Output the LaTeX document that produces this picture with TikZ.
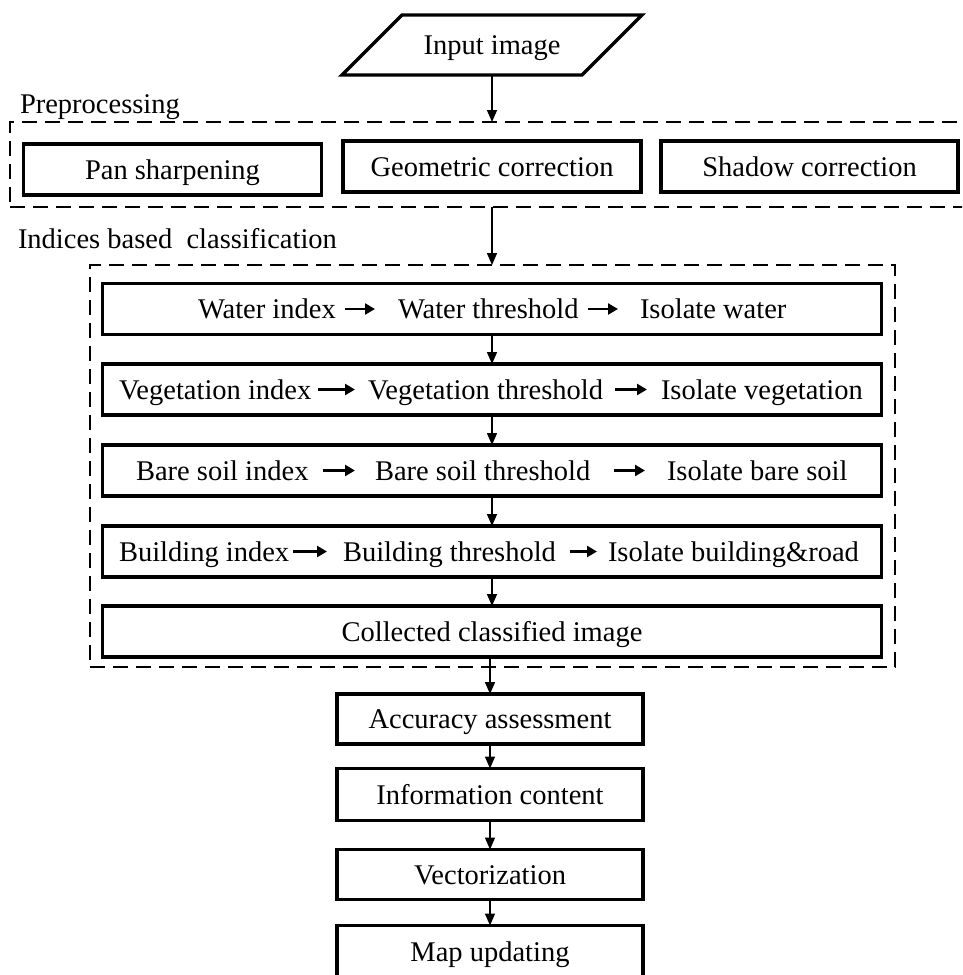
\documentclass[tikz,border=0pt]{standalone}
\usepackage{fontspec}
\setmainfont{Liberation Serif}
\usetikzlibrary{arrows.meta}
\begin{document}
\begin{tikzpicture}[x=1pt,y=-1pt,
  every node/.style={font=\fontsize{28.5}{34}\selectfont, inner sep=0pt, outer sep=0pt},
  solidbox/.style={draw, line width=3.2pt, minimum height=51pt, text height=19.5pt, text depth=0pt},
  dashbox/.style={draw, line width=2.6pt, dash pattern=on 15pt off 8pt},
  vconn/.style={line width=1.5pt, -{Triangle[length=12pt,width=10pt]}},
  hconn/.style={line width=2.4pt, -{Triangle[length=10pt,width=11pt]}},
  term/.style={anchor=west, text height=19.5pt, text depth=0pt},
]
\clip (0,0) rectangle (962,975);

% input
\node[minimum width=300pt, minimum height=60pt, text height=19.5pt, text depth=0pt] (input) at (492,45) {Input image};
\draw[line width=3.2pt, line join=miter] ([xshift=60pt]input.north west) -- (input.north east)
  -- ([xshift=-60pt]input.south east) -- (input.south west) -- cycle;

% preprocessing
\node[dashbox, minimum width=960pt, minimum height=85pt] (pre) at (490,164.5) {};
\node[anchor=base west] (prelabel) at (20,113) {Preprocessing};
\node[solidbox, minimum width=298pt] (pan) at (172.5,169.5) {Pan sharpening};
\node[solidbox, minimum width=298pt] (geo) at (492,166.5) {Geometric correction};
\node[solidbox, minimum width=297pt] (shadow) at (809.5,166.5) {Shadow correction};

% indices based classification
\node[anchor=base west] (idxlabel) at (18,248) {Indices based\ \ classification};
\node[dashbox, minimum width=805pt, minimum height=402pt] (idx) at (492.5,466) {};

\node[solidbox, minimum width=779pt] (water) at (492,309) {};
\node[solidbox, minimum width=779pt] (veg) at (492,389.5) {};
\node[solidbox, minimum width=779pt] (bare) at (492,470.5) {};
\node[solidbox, minimum width=779pt] (bld) at (492,551.5) {};
\node[solidbox, minimum width=779pt] (coll) at (492,631.5) {Collected classified image};

% row texts
\node[term] (w1) at (198,309) {Water index};
\node[term] (w2) at (398,309) {Water threshold};
\node[term] (w3) at (640,309) {Isolate water};
\node[term] (v1) at (119,389.5) {Vegetation index};
\node[term] (v2) at (368,389.5) {Vegetation threshold};
\node[term] (v3) at (661,389.5) {Isolate vegetation};
\node[term] (b1) at (136,470.5) {Bare soil index};
\node[term] (b2) at (375,470.5) {Bare soil threshold};
\node[term] (b3) at (667,470.5) {Isolate bare soil};
\node[term] (u1) at (119,551.5) {Building index};
\node[term] (u2) at (343,551.5) {Building threshold};
\node[term] (u3) at (608,551.5) {Isolate building\&road};

\draw[hconn] ([xshift=9pt]w1.east) -- ([xshift=-23pt]w2.west);
\draw[hconn] ([xshift=9pt]w2.east) -- ([xshift=-22pt]w3.west);
\draw[hconn] ([xshift=7pt]v1.east) -- ([xshift=-13pt]v2.west);
\draw[hconn] ([xshift=12pt]v2.east) -- ([xshift=-14pt]v3.west);
\draw[hconn] ([xshift=14pt]b1.east) -- ([xshift=-20pt]b2.west);
\draw[hconn] ([xshift=24pt]b2.east) -- ([xshift=-22pt]b3.west);
\draw[hconn] ([xshift=4pt]u1.east) -- ([xshift=-16pt]u2.west);
\draw[hconn] ([xshift=14pt]u2.east) -- ([xshift=-11pt]u3.west);

% lower chain
\node[solidbox, minimum width=306pt, minimum height=50pt] (acc) at (490,719) {Accuracy assessment};
\node[solidbox, minimum width=306pt, minimum height=52pt] (info) at (490,794.5) {Information content};
\node[solidbox, minimum width=306pt, minimum height=50pt] (vect) at (490,874.5) {Vectorization};
\node[solidbox, minimum width=306pt, minimum height=53pt] (map) at (490,952) {Map updating};

% vertical connectors
\draw[vconn] (input.south) -- (input.south |- pre.north);
\draw[vconn] (input.south |- pre.south) -- (input.south |- idx.north);
\draw[vconn] (water.south) -- (veg.north);
\draw[vconn] (veg.south) -- (bare.north);
\draw[vconn] (bare.south) -- (bld.north);
\draw[vconn] (bld.south) -- (coll.north);
\draw[vconn] (coll.south -| acc) -- (acc.north);
\draw[vconn] (acc.south) -- (info.north);
\draw[vconn] (info.south) -- (vect.north);
\draw[vconn] (vect.south) -- (map.north);
\end{tikzpicture}
\end{document}
